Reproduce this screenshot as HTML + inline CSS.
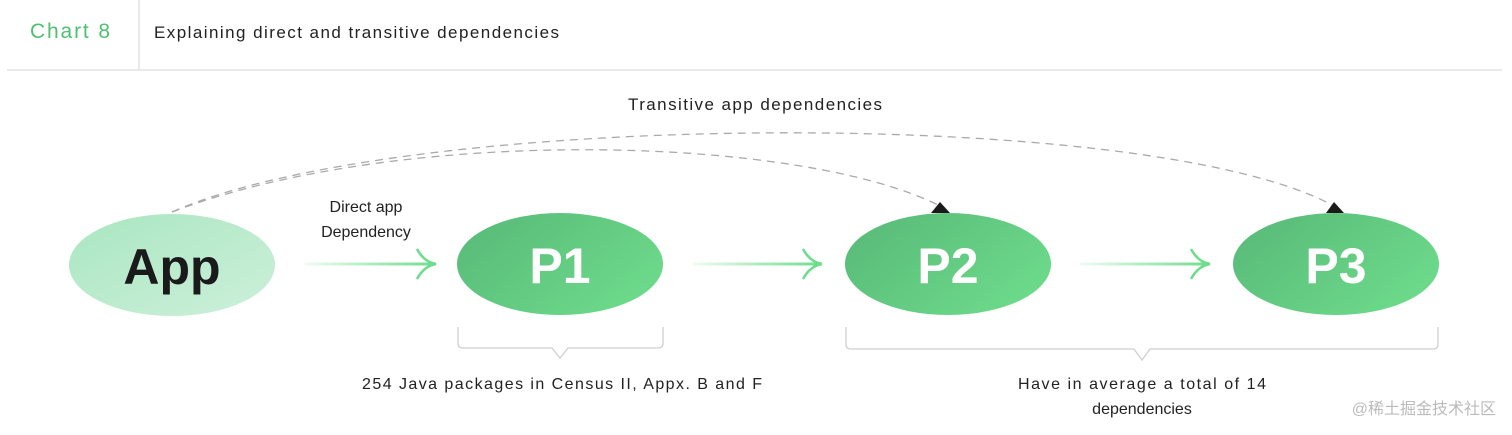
<!DOCTYPE html>
<html><head><meta charset="utf-8"><style>
html,body{margin:0;padding:0;background:#fff;}
svg{display:block;}
text{font-family:"Liberation Sans",sans-serif;}
</style></head><body>
<svg width="1512" height="435" viewBox="0 0 1512 435" xmlns="http://www.w3.org/2000/svg">
<defs>
<linearGradient id="gA" x1="0" y1="0" x2="1" y2="1"><stop offset="0" stop-color="#a9e6c1"/><stop offset="1" stop-color="#cdf0da"/></linearGradient>
<linearGradient id="gP" x1="0" y1="0" x2="1" y2="0.6"><stop offset="0" stop-color="#57b877"/><stop offset="1" stop-color="#6cd98a"/></linearGradient>
<linearGradient id="ar" x1="0" y1="0" x2="1" y2="0"><stop offset="0" stop-color="#6ddc8c" stop-opacity="0.1"/><stop offset="1" stop-color="#6ddc8c"/></linearGradient>
</defs>
<line x1="7" y1="70" x2="1502" y2="70" stroke="#e3e3e3" stroke-width="1.5"/>
<line x1="139" y1="0" x2="139" y2="70" stroke="#e3e3e3" stroke-width="1.5"/>
<text x="30" y="38" font-size="21" fill="#4fbf72" textLength="80">Chart 8</text>
<text x="154" y="38" font-size="17" fill="#222" textLength="405">Explaining direct and transitive dependencies</text>
<text x="628" y="110" font-size="17" fill="#222" textLength="254">Transitive app dependencies</text>
<path d="M172 212 C 400 125, 800 135, 940 206" fill="none" stroke="#aaa" stroke-width="1.3" stroke-dasharray="8,6"/>
<path d="M172 212 C 400 110, 1150 105, 1334 206" fill="none" stroke="#aaa" stroke-width="1.3" stroke-dasharray="8,6"/>
<polygon points="931,213 940,202 950,213" fill="#1a1a1a"/>
<polygon points="1326,213 1334,202 1344,213" fill="#1a1a1a"/>
<ellipse cx="172" cy="265" rx="103" ry="51" fill="url(#gA)"/>
<ellipse cx="560" cy="264" rx="103" ry="51" fill="url(#gP)"/>
<ellipse cx="948" cy="264" rx="103" ry="51" fill="url(#gP)"/>
<ellipse cx="1336" cy="264" rx="103" ry="51" fill="url(#gP)"/>
<text x="172" y="284" font-size="50" font-weight="bold" fill="#1a1a1a" text-anchor="middle">App</text>
<text x="560" y="283" font-size="50" font-weight="bold" fill="#fff" text-anchor="middle">P1</text>
<text x="948" y="283" font-size="50" font-weight="bold" fill="#fff" text-anchor="middle">P2</text>
<text x="1336" y="283" font-size="50" font-weight="bold" fill="#fff" text-anchor="middle">P3</text>
<text x="366" y="212" font-size="16" fill="#222" text-anchor="middle">Direct app</text>
<text x="366" y="237" font-size="16" fill="#222" text-anchor="middle">Dependency</text>
<rect x="305" y="262.5" width="131" height="3" fill="url(#ar)"/>
<rect x="692" y="262.5" width="130" height="3" fill="url(#ar)"/>
<rect x="1080" y="262.5" width="130" height="3" fill="url(#ar)"/>
<g stroke="#6ddc8c" stroke-width="2.5" fill="none">
<path d="M417 249 Q 424 262 436 264 Q 424 266 417 279"/>
<path d="M803 249 Q 810 262 822 264 Q 810 266 803 279"/>
<path d="M1191 249 Q 1198 262 1210 264 Q 1198 266 1191 279"/>
</g>
<g stroke="#cfcfcf" stroke-width="1.3" fill="none">
<path d="M458 327 V343 Q458 348 463 348 H552 L560 358 L568 348 H658 Q663 348 663 343 V327"/>
<path d="M846 327 V344 Q846 349 851 349 H1134 L1142 360 L1150 349 H1433 Q1438 349 1438 344 V327"/>
</g>
<text x="362" y="389" font-size="16" fill="#222" textLength="400">254 Java packages in Census II, Appx. B and F</text>
<text x="1018" y="389" font-size="16" fill="#222" textLength="248">Have in average a total of 14</text>
<text x="1142" y="414" font-size="16" fill="#222" text-anchor="middle">dependencies</text>
<text x="1496" y="414" font-size="16" fill="#bbb" text-anchor="end" font-family="Liberation Sans, Noto Sans CJK SC, sans-serif">@稀土掘金技术社区</text>
</svg>
</body></html>
